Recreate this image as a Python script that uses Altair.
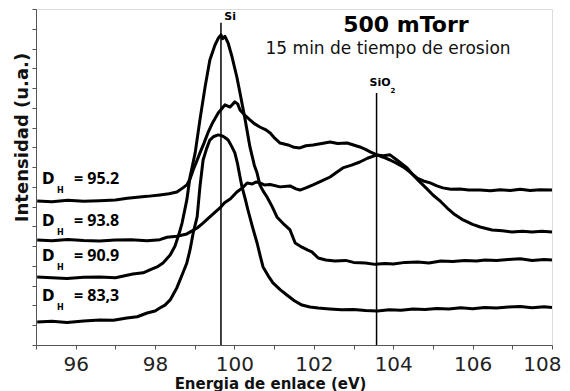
import altair as alt
import pandas as pd

# ---- data (binding energy in eV, intensity in arbitrary units) ----
E_833 = [95.03, 95.40, 95.78, 96.20, 96.61, 96.95, 97.29, 97.55, 97.80, 98.00, 98.12, 98.25, 98.38, 98.55, 98.70,
         98.80, 98.88, 98.96, 99.06, 99.13, 99.21, 99.30, 99.38, 99.48, 99.59, 99.69, 99.76, 99.84, 99.93, 100.01,
         100.08, 100.14, 100.19, 100.27, 100.34, 100.45, 100.57, 100.65, 100.72, 100.85, 100.97, 101.15, 101.32,
         101.50, 101.70, 101.90, 102.11, 102.40, 102.70, 103.00, 103.30, 103.60, 103.90, 104.20, 104.50, 104.80,
         105.10, 105.40, 105.70, 106.00, 106.30, 106.60, 106.90, 107.20, 107.50, 107.80, 108.00]
I_833 = [1.16, 1.20, 1.14, 1.22, 1.27, 1.25, 1.37, 1.43, 1.62, 1.72, 1.87, 2.02, 2.28, 2.90, 3.64,
         4.15, 4.81, 5.67, 6.48, 8.00, 9.36, 9.95, 10.37, 10.55, 10.63, 10.58, 10.50, 10.37, 10.05, 9.72,
         9.15, 8.50, 8.00, 7.40, 6.83, 6.00, 5.16, 4.50, 3.95, 3.50, 3.14, 2.80, 2.53,
         2.25, 2.02, 1.92, 1.87, 1.82, 1.78, 1.80, 1.74, 1.72, 1.78, 1.76, 1.82, 1.80,
         1.85, 1.82, 1.88, 1.84, 1.90, 1.87, 1.92, 1.95, 1.88, 1.93, 1.90]

E_909 = [95.03, 95.40, 95.78, 96.20, 96.61, 97.00, 97.44, 97.70, 97.87, 98.05, 98.20, 98.38, 98.50, 98.60, 98.68,
         98.80, 98.88, 99.01, 99.13, 99.26, 99.38, 99.51, 99.60, 99.66, 99.70, 99.76, 99.84, 99.94, 100.06, 100.14,
         100.27, 100.39, 100.50, 100.57, 100.64, 100.72, 100.82, 100.95, 101.07, 101.25, 101.40, 101.53, 101.70,
         101.85, 101.95, 102.11, 102.30, 102.53, 102.80, 103.00, 103.30, 103.54, 103.80, 104.00, 104.30, 104.62,
         104.90, 105.20, 105.50, 105.80, 106.10, 106.31, 106.60, 106.90, 107.20, 107.50, 107.80, 108.00]
I_909 = [3.44, 3.40, 3.36, 3.43, 3.44, 3.40, 3.59, 3.65, 3.80, 3.95, 4.15, 4.55, 5.00, 5.60, 6.17,
         7.34, 8.50, 9.72, 11.39, 13.06, 14.42, 15.18, 15.55, 15.69, 15.50, 15.62, 15.28, 14.57, 13.56, 12.75,
         11.39, 10.02, 9.10, 8.70, 8.10, 7.80, 7.49, 7.00, 6.48, 6.10, 5.82, 5.16, 4.95,
         4.80, 4.71, 4.40, 4.30, 4.25, 4.28, 4.18, 4.15, 4.08, 4.12, 4.10, 4.18, 4.20,
         4.15, 4.25, 4.22, 4.28, 4.25, 4.30, 4.27, 4.32, 4.36, 4.28, 4.33, 4.30]

E_938 = [95.03, 95.40, 95.80, 96.20, 96.60, 97.00, 97.40, 97.80, 98.12, 98.30, 98.55, 98.80, 99.06, 99.20, 99.38,
         99.50, 99.64, 99.75, 99.90, 100.06, 100.20, 100.32, 100.45, 100.55, 100.64, 100.75, 100.90, 101.15, 101.40,
         101.55, 101.65, 101.80, 101.98, 102.20, 102.41, 102.55, 102.73, 102.95, 103.16, 103.35, 103.59, 103.75,
         103.92, 104.10, 104.35, 104.50, 104.67, 104.85, 105.00, 105.20, 105.36, 105.55, 105.76, 106.00, 106.19,
         106.49, 106.75, 106.99, 107.25, 107.50, 107.75, 108.00]
I_938 = [5.31, 5.27, 5.34, 5.29, 5.26, 5.31, 5.33, 5.28, 5.33, 5.45, 5.50, 5.62, 5.92, 6.15, 6.48,
         6.70, 6.95, 7.20, 7.40, 7.74, 7.95, 8.20, 8.15, 8.25, 8.20, 8.10, 8.12, 8.00, 8.05,
         7.90, 7.84, 7.95, 8.10, 8.30, 8.50, 8.70, 8.96, 9.10, 9.26, 9.45, 9.62, 9.58,
         9.62, 9.35, 8.96, 8.60, 8.25, 7.90, 7.59, 7.25, 6.93, 6.60, 6.33, 6.10, 5.97,
         5.82, 5.78, 5.72, 5.76, 5.72, 5.75, 5.72]

E_952 = [95.03, 95.40, 95.80, 96.20, 96.60, 97.00, 97.30, 97.55, 97.80, 98.12, 98.35, 98.55, 98.70, 98.80, 98.88,
         98.96, 99.05, 99.13, 99.23, 99.33, 99.45, 99.59, 99.68, 99.76, 99.89, 100.01, 100.08, 100.14, 100.25,
         100.39, 100.50, 100.64, 100.78, 100.90, 101.02, 101.15, 101.35, 101.50, 101.65, 101.80, 101.98, 102.20,
         102.41, 102.60, 102.84, 103.00, 103.16, 103.30, 103.42, 103.59, 103.75, 103.92, 104.08, 104.25, 104.42,
         104.60, 104.76, 104.93, 105.10, 105.25, 105.45, 105.68, 105.90, 106.19, 106.45, 106.70, 106.95, 107.20,
         107.45, 107.70, 108.00]
I_952 = [7.29, 7.25, 7.32, 7.27, 7.30, 7.34, 7.42, 7.48, 7.52, 7.59, 7.65, 7.74, 7.95, 8.10, 8.40,
         8.86, 9.30, 9.72, 10.20, 10.73, 11.25, 11.74, 11.95, 12.15, 12.04, 12.30, 12.20, 11.89, 11.65,
         11.39, 11.20, 11.03, 10.90, 10.73, 10.45, 10.22, 10.12, 10.00, 9.97, 10.08, 10.12, 10.20,
         10.27, 10.20, 10.22, 10.12, 10.02, 9.90, 9.77, 9.62, 9.50, 9.36, 9.20, 9.01, 8.75,
         8.45, 8.30, 8.20, 8.05, 7.95, 7.88, 7.89, 7.84, 7.84, 7.80, 7.86, 7.82, 7.88,
         7.82, 7.86, 7.84]

series_names = ["83,3", "90.9", "93.8", "95.2"]

# reference lines (Si, SiO2): position and top
ref_x = [99.66, 103.58]
ref_top = [16.3, 12.75]

# curve labels
label_values = ["= 95.2", "= 93.8", "= 90.9", "= 83,3"]
label_y = [8.40, 6.28, 4.50, 2.48]
label_x = [95.15, 95.15, 95.15, 95.15]

# peak labels
peak_text = ["Si", "SiO"]
peak_x = [99.89, 103.67]
peak_y = [16.6, 13.26]
sub2_x = [103.99]
sub2_y = [12.85]

# header texts
head_text = ["500 mTorr", "15 min de tiempo de erosion"]
head_x = [104.32, 103.87]
head_y = [16.19, 14.98]

x_ticks = list(range(95, 109))
y_ticks = list(range(0, 18))

# ---- build tables ----
rows = []
for name, E, I in zip(series_names, [E_833, E_909, E_938, E_952], [I_833, I_909, I_938, I_952]):
    for e, i in zip(E, I):
        rows.append({"E": e, "I": i, "serie": name})
curves = pd.DataFrame(rows)
refs = pd.DataFrame({"E": ref_x, "top": ref_top, "bot": [0, 0]})
labels = pd.DataFrame({"E": label_x, "I": label_y, "val": label_values, "D": ["D"] * 4, "H": ["H"] * 4})
peaks = pd.DataFrame({"E": peak_x, "I": peak_y, "t": peak_text})
sub2 = pd.DataFrame({"E": sub2_x, "I": sub2_y, "t": ["2"]})
heads = pd.DataFrame({"E": head_x, "I": head_y, "t": head_text})

FONT = "DejaVu Sans"
xscale = alt.Scale(domain=[95, 108], nice=False, zero=False)
yscale = alt.Scale(domain=[0, 17], nice=False, zero=False)

xaxis = alt.Axis(values=x_ticks, labels=True,
                 labelExpr="(datum.value % 2 == 0) ? format(datum.value, 'd') : ''",
                 labelOverlap=False, labelBound=False, labelFlush=True, labelFlushOffset=9,
                 title="Energia de enlace (eV)", titleFont=FONT, titleFontSize=15, titleFontWeight="bold",
                 titleColor="#111", titleX=234, titleY=43, titleBaseline="alphabetic", titleAnchor="middle",
                 titleAlign="center",
                 labelFont=FONT, labelFontSize=20, labelColor="#222", labelPadding=5,
                 tickSize=4, tickColor="#555", domainColor="#555", grid=False)
yaxis = alt.Axis(values=y_ticks, labels=False, title="Intensidad (u.a.)", titleFont=FONT, titleFontSize=18,
                 titleFontWeight="bold", titleColor="#111", titleX=-9, titleY=128, titleAngle=270,
                 titleAlign="center", titleBaseline="alphabetic",
                 tickSize=4, tickColor="#555", domainColor="#555", grid=False)

X = alt.X("E:Q", scale=xscale, axis=xaxis)
Y = alt.Y("I:Q", scale=yscale, axis=yaxis)

lines = alt.Chart(curves).mark_line(color="black", strokeWidth=3, strokeJoin="round").encode(
    x=X, y=Y, detail="serie:N", order="E:Q")

rules = alt.Chart(refs).mark_rule(color="black", strokeWidth=1.5).encode(
    x=X, y=alt.Y("top:Q", scale=yscale, axis=yaxis), y2="bot:Q")

d_txt = alt.Chart(labels).mark_text(font=FONT, fontSize=15, fontWeight="bold", align="left",
                                    baseline="middle", color="black").encode(x=X, y=Y, text="D:N")
h_txt = alt.Chart(labels).mark_text(font=FONT, fontSize=8, fontWeight="bold", align="left",
                                    baseline="middle", color="black", dx=15, dy=12).encode(x=X, y=Y, text="H:N")
v_txt = alt.Chart(labels).mark_text(font="Open Sans", fontSize=16, fontWeight="bold", align="left",
                                    baseline="middle", color="black", dx=32).encode(x=X, y=Y, text="val:N")

p_txt = alt.Chart(peaks).mark_text(font=FONT, fontSize=11, fontWeight="bold", align="center",
                                   baseline="middle", color="black").encode(x=X, y=Y, text="t:N")
s_txt = alt.Chart(sub2).mark_text(font=FONT, fontSize=7, fontWeight="bold", align="center",
                                  baseline="middle", color="black").encode(x=X, y=Y, text="t:N")

h1 = alt.Chart(heads.iloc[[0]]).mark_text(font=FONT, fontSize=22, fontWeight="bold", align="center",
                                           baseline="middle", color="black").encode(x=X, y=Y, text="t:N")
h2 = alt.Chart(heads.iloc[[1]]).mark_text(font=FONT, fontSize=17, align="center",
                                           baseline="middle", color="#111").encode(x=X, y=Y, text="t:N")

chart = alt.layer(lines, rules, d_txt, h_txt, v_txt, p_txt, s_txt, h1, h2).properties(
    width=516, height=336,
    autosize=alt.AutoSizeParams(type="none"),
    padding={"left": 28, "top": 1, "right": 10, "bottom": 46},
).configure_view(stroke="#555", strokeWidth=1).configure(background="white")

chart.save("out.html", embed_options={"renderer": "svg", "actions": False})
